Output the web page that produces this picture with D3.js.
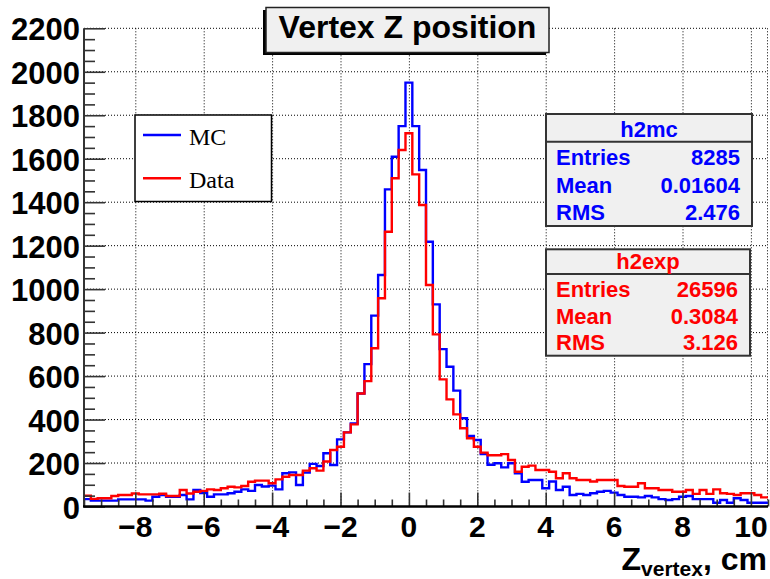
<!DOCTYPE html>
<html>
<head>
<meta charset="utf-8">
<script src="https://cdn.jsdelivr.net/npm/d3@7"></script>
<style>
  body { margin: 0; background: #fff; }
  svg { display: block; }
  text { font-family: "Liberation Sans", Arial, sans-serif; }
  text.serif { font-family: "Liberation Serif", "Times New Roman", serif; }
</style>
</head>
<body>
<svg id="chart" width="770" height="579"></svg>
<script>
// histogram range, 100 bins of 0.2 cm
const xRange = [-9.5, 10.5];
const nBins = 100;

// bin contents (MC = blue, Data = red)
const mcCounts = [
  34, 27, 27, 27, 27, 33, 33, 33, 33, 27,
  45, 53, 45, 45, 53, 33, 76, 62, 45, 56,
  56, 61, 68, 79, 72, 99, 92, 96, 79, 153,
  157, 99, 156, 196, 186, 245, 191, 309, 341, 382,
  520, 655, 878, 1065, 1459, 1609, 1750, 1950, 1750, 1548,
  1218, 930, 724, 643, 533, 406, 324, 306, 241, 192,
  199, 180, 199, 153, 114, 122, 122, 84, 115, 76,
  91, 53, 58, 53, 61, 68, 72, 64, 53, 45,
  45, 42, 48, 42, 34, 30, 34, 45, 48, 34,
  34, 34, 17, 30, 17, 38, 30, 17, 17, 17
];
const dataCounts = [
  50, 35, 38, 38, 48, 53, 53, 60, 56, 56,
  56, 59, 48, 48, 76, 60, 68, 72, 79, 76,
  84, 91, 88, 94, 114, 119, 119, 107, 125, 137,
  145, 145, 165, 176, 165, 207, 260, 275, 341, 378,
  520, 577, 728, 958, 1264, 1510, 1640, 1717, 1528, 1387,
  1019, 792, 585, 493, 424, 360, 314, 275, 248, 236,
  236, 241, 214, 160, 183, 188, 168, 168, 160, 130,
  153, 130, 122, 122, 115, 122, 122, 122, 94, 91,
  91, 107, 84, 84, 76, 76, 68, 68, 76, 58,
  76, 58, 79, 61, 58, 53, 61, 61, 53, 42
];

const xTicks = [-8, -6, -4, -2, 0, 2, 4, 6, 8, 10];
const yTicks = [0, 200, 400, 600, 800, 1000, 1200, 1400, 1600, 1800, 2000, 2200];

const legendNames = ["MC", "Data"];
const seriesColors = ["#0000ff", "#ff0000"];

const statNames = ["h2mc", "h2exp"];
const statLabels = ["Entries", "Mean", "RMS"];
const statValues = [["8285", "0.01604", "2.476"], ["26596", "0.3084", "3.126"]];

const svg = d3.select("#chart");

// frame edges in px
const fLeft = 84, fRight = 768, fTop = 28.3, fBottom = 506.5;

const x = d3.scaleLinear().domain(xRange).range([fLeft, fRight]);
const y = d3.scaleLinear().domain([0, 2200]).range([fBottom, fTop]);
const binW = (xRange[1] - xRange[0]) / nBins;

// dotted grid
const grid = svg.append("g").attr("stroke", "#000").attr("stroke-width", 1)
  .attr("stroke-dasharray", "1,2");
grid.selectAll(".gx").data(xTicks).enter().append("line")
  .attr("x1", d => x(d) + 0.5).attr("x2", d => x(d) + 0.5)
  .attr("y1", fTop).attr("y2", fBottom);
grid.selectAll(".gy").data(yTicks.slice(1)).enter().append("line")
  .attr("x1", fLeft).attr("x2", fRight)
  .attr("y1", d => y(d)).attr("y2", d => y(d));
// right frame edge looks dotted too
grid.append("line").attr("x1", fRight - 0.5).attr("x2", fRight - 0.5).attr("y1", fTop).attr("y2", fBottom);

// histograms as step lines
function stepPath(counts) {
  let p = "M" + x(xRange[0]) + "," + y(counts[0]);
  counts.forEach((c, i) => {
    if (i > 0) p += "V" + y(c);
    p += "H" + x(xRange[0] + (i + 1) * binW);
  });
  return p;
}

svg.selectAll(".hist")
  .data([mcCounts, dataCounts])
  .enter()
  .append("path")
  .attr("d", d => stepPath(d))
  .attr("fill", "none")
  .attr("stroke", (d, i) => seriesColors[i])
  .attr("stroke-width", 2.4);

// axes, ROOT style: ticks point inwards
const yAxis = d3.axisRight(y).tickValues(d3.range(0, 2201, 50)).tickSize(11).tickFormat("");
svg.append("g").attr("transform", `translate(${fLeft},0)`).call(yAxis)
  .call(g => g.select(".domain").remove())
  .call(g => g.selectAll(".tick line").attr("stroke", "#333").attr("stroke-width", 1.6)
    .attr("x2", d => d % 200 === 0 ? 21 : 11));

const xAxis = d3.axisTop(x).tickValues(d3.range(-9.5, 10.51, 0.5)).tickSize(7).tickFormat("");
svg.append("g").attr("transform", `translate(0,${fBottom})`).call(xAxis)
  .call(g => g.select(".domain").remove())
  .call(g => g.selectAll(".tick line").attr("stroke", "#333").attr("stroke-width", 1.6)
    .attr("y2", d => Math.abs(d % 2) < 1e-9 ? -14 : -7));

svg.append("line").attr("x1", fLeft).attr("x2", fLeft).attr("y1", fTop).attr("y2", fBottom)
  .attr("stroke", "#333").attr("stroke-width", 2);
svg.append("line").attr("x1", fLeft - 1).attr("x2", fRight).attr("y1", fBottom).attr("y2", fBottom)
  .attr("stroke", "#000").attr("stroke-width", 2.5);

// tick labels
svg.selectAll(".ylab").data(yTicks).enter().append("text")
  .attr("x", 80).attr("y", d => y(d) + 12)
  .attr("text-anchor", "end")
  .attr("font-size", 31).attr("font-weight", "bold")
  .text(d => d);

svg.selectAll(".xlab").data(xTicks).enter().append("text")
  .attr("x", d => x(d)).attr("y", 537)
  .attr("text-anchor", "middle")
  .attr("font-size", 30).attr("font-weight", "bold")
  .text(d => d < 0 ? "\u2212" + Math.abs(d) : d);

// axis title Z_vertex, cm
const xt = svg.append("text").attr("x", 767).attr("y", 570)
  .attr("text-anchor", "end").attr("font-weight", "bold").attr("font-size", 32);
xt.append("tspan").text("Z");
xt.append("tspan").attr("font-size", 21).attr("dy", 6).text("vertex");
xt.append("tspan").attr("dy", -6).text(", cm");

// title box
svg.append("rect").attr("x", 263).attr("y", 10).attr("width", 283).attr("height", 45).attr("fill", "#000");
svg.append("rect").attr("x", 266).attr("y", 7.5).attr("width", 283).attr("height", 45)
  .attr("fill", "#f0f0f0").attr("stroke", "#222").attr("stroke-width", 1.5);
svg.append("text").attr("x", 407.5).attr("y", 38).attr("text-anchor", "middle")
  .attr("font-size", 32).attr("font-weight", "bold").text("Vertex Z position");

// legend
const leg = svg.append("g");
leg.append("rect").attr("x", 135).attr("y", 115).attr("width", 136.5).attr("height", 86.5)
  .attr("fill", "#fff").attr("stroke", "#000").attr("stroke-width", 1.5);
const legRows = leg.selectAll(".row").data(legendNames).enter().append("g")
  .attr("transform", (d, i) => `translate(0,${135 + i * 43.3})`);
legRows.append("line").attr("x1", 143).attr("x2", 181).attr("y1", 0).attr("y2", 0)
  .attr("stroke", (d, i) => seriesColors[i]).attr("stroke-width", 2.4);
legRows.append("text").attr("class", "serif").attr("x", 189).attr("y", 10)
  .attr("font-size", 24).text(d => d);

// stats boxes
const statBoxes = [
  {x: 546, y: 114, w: 206, h: 112, head: 27.7, rows: [51, 78.7, 106]},
  {x: 546, y: 249.3, w: 204, h: 106.4, head: 24.7, rows: [47.7, 74.7, 100.7]}
];
const st = svg.selectAll(".stat").data(statNames).enter().append("g")
  .attr("transform", (d, i) => `translate(${statBoxes[i].x},${statBoxes[i].y})`)
  .attr("fill", (d, i) => seriesColors[i]);
st.append("rect").attr("width", (d, i) => statBoxes[i].w).attr("height", (d, i) => statBoxes[i].h)
  .attr("fill", "#f0f0f0").attr("stroke", "#333").attr("stroke-width", 2);
st.append("line").attr("x1", 0).attr("x2", (d, i) => statBoxes[i].w)
  .attr("y1", (d, i) => statBoxes[i].head).attr("y2", (d, i) => statBoxes[i].head)
  .attr("stroke", "#333").attr("stroke-width", 2);
st.append("text").attr("x", (d, i) => statBoxes[i].w / 2).attr("y", (d, i) => statBoxes[i].head - 5)
  .attr("text-anchor", "middle").attr("font-size", 22).attr("font-weight", "bold").text(d => d);
st.each(function(d, i) {
  const g = d3.select(this);
  g.selectAll(".lab").data(statLabels).enter().append("text")
    .attr("x", 10).attr("y", (l, j) => statBoxes[i].rows[j])
    .attr("font-size", 22).attr("font-weight", "bold").text(l => l);
  g.selectAll(".val").data(statValues[i]).enter().append("text")
    .attr("x", statBoxes[i].w - 12).attr("y", (l, j) => statBoxes[i].rows[j])
    .attr("text-anchor", "end")
    .attr("font-size", 22).attr("font-weight", "bold").text(v => v);
});
</script>
</body>
</html>
